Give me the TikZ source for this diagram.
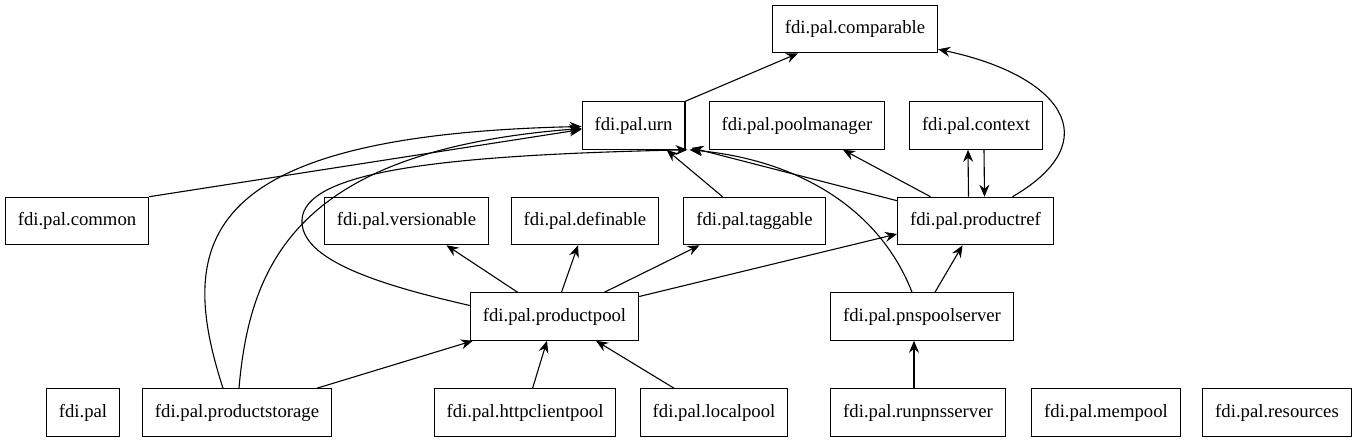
\documentclass[tikz,border=0pt]{standalone}
\usepackage{fontspec}
\setmainfont{Liberation Serif}
\usetikzlibrary{arrows.meta}
\begin{document}
\begin{tikzpicture}[x=1pt,y=-1pt,
  mod/.style={draw, line width=1.1pt, rectangle, minimum height=47.5pt, inner xsep=12.5pt, inner ysep=0pt,
    font=\fontsize{18.7}{22}\selectfont},
  dep/.style={line width=1.1pt, -{Stealth[length=12pt,width=10pt,inset=4pt]}}]
\useasboundingbox (0,0) rectangle (1356,443);
\node[mod] (comparable) at (855,29) {fdi.pal.comparable};
\node[mod] (urn) at (633.5,125.5) {fdi.pal.urn};
\node[mod] (poolmanager) at (797,125.5) {fdi.pal.poolmanager};
\node[mod] (context) at (976,125.5) {fdi.pal.context};
\node[mod] (common) at (77,221) {fdi.pal.common};
\node[mod] (versionable) at (406.5,221) {fdi.pal.versionable};
\node[mod] (definable) at (585,221) {fdi.pal.definable};
\node[mod] (taggable) at (754.5,221) {fdi.pal.taggable};
\node[mod] (productref) at (975.5,221) {fdi.pal.productref};
\node[mod] (productpool) at (554.5,316.5) {fdi.pal.productpool};
\node[mod] (pnspoolserver) at (922,316.5) {fdi.pal.pnspoolserver};
\node[mod] (fdipal) at (83,412.5) {fdi.pal};
\node[mod] (productstorage) at (237,412.5) {fdi.pal.productstorage};
\node[mod] (httpclientpool) at (525,412.5) {fdi.pal.httpclientpool};
\node[mod] (localpool) at (714,412.5) {fdi.pal.localpool};
\node[mod] (runpnsserver) at (918,412.5) {fdi.pal.runpnsserver};
\node[mod] (mempool) at (1106,412.5) {fdi.pal.mempool};
\node[mod] (resources) at (1277,412.5) {fdi.pal.resources};

% edges
\draw[dep] (urn.north east) -- ([xshift=-57pt]comparable.south);
\draw[dep] ([xshift=37pt]productref.north) .. controls (1110,140) and (1060,75) .. ([yshift=4pt]comparable.south east);
\draw[dep] (common.north east) -- ([yshift=-4pt]urn.west);
\draw[dep] ([xshift=-14pt]productstorage.north) .. controls (175,240) and (200,135) .. ([yshift=-1pt]urn.west);
\draw[dep] ([xshift=2pt]productstorage.north) .. controls (250,260) and (300,150) .. ([yshift=-3pt]urn.west);
\draw[dep] ([yshift=11pt]productpool.west) .. controls (380,285) and (300,260) .. (302,220) .. controls (304,170) and (450,155) .. ([xshift=2pt]urn.south east);
\draw[dep] ([xshift=-32pt]taggable.north) -- ([xshift=33pt]urn.south);
\draw[dep] ([yshift=-4pt]productref.north west) -- ([xshift=6pt,yshift=2pt]urn.south east);
\draw[dep] ([xshift=-10pt]pnspoolserver.north) .. controls (880,210) and (800,160) .. ([xshift=4pt]urn.south east);
\draw[dep] ([xshift=-45pt]productref.north) -- ([xshift=46pt]poolmanager.south);
\draw[dep] ([xshift=-7pt]productref.north) -- ([xshift=-8pt]context.south);
\draw[dep] ([xshift=8pt]context.south) -- ([xshift=9pt]productref.north);
\draw[dep] ([xshift=-37pt]productpool.north) -- ([xshift=40pt]versionable.south);
\draw[dep] ([xshift=7pt]productpool.north) -- ([xshift=-7pt]definable.south);
\draw[dep] ([xshift=50pt]productpool.north) -- ([xshift=-55pt]taggable.south);
\draw[dep] ([yshift=20pt]productpool.east) -- ([yshift=-13pt]productref.west);
\draw[dep] ([xshift=13pt]pnspoolserver.north) -- ([xshift=-13pt]productref.south);
\draw[dep] ([xshift=80pt]productstorage.north) -- ([xshift=3pt]productpool.south west);
\draw[dep] ([xshift=7.6pt]httpclientpool.north) -- ([xshift=-7.5pt]productpool.south);
\draw[dep] ([xshift=-40pt]localpool.north) -- ([xshift=41.5pt]productpool.south);
\draw[dep] ([xshift=-4pt]runpnsserver.north) -- ([xshift=-8pt]pnspoolserver.south);
\end{tikzpicture}
\end{document}
